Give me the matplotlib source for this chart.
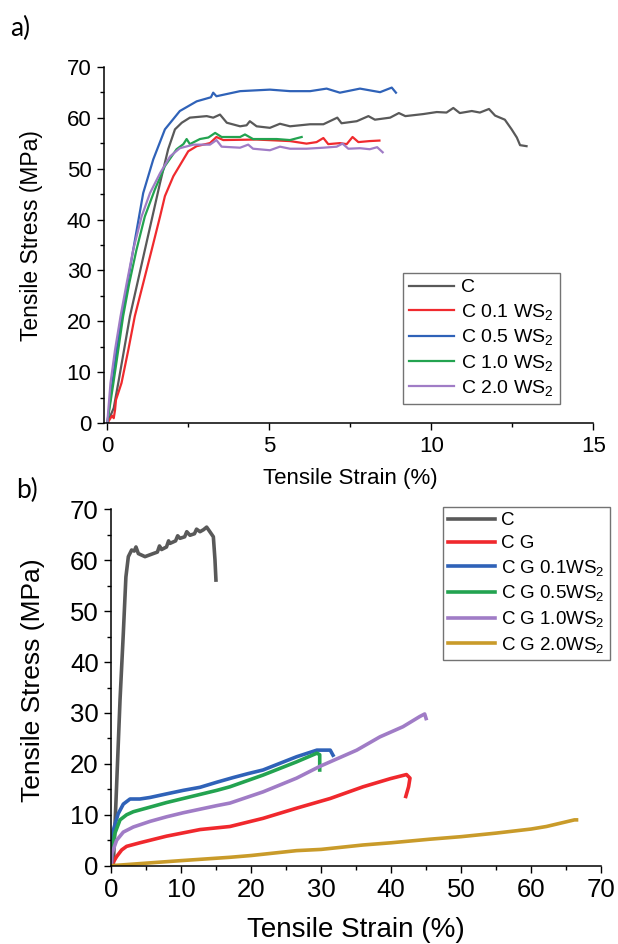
import matplotlib
matplotlib.use("Agg")
import matplotlib.pyplot as plt
from matplotlib.ticker import MultipleLocator

plt.rcParams['font.family'] = ['Liberation Sans', 'DejaVu Sans']
plt.rcParams['mathtext.fontset'] = 'custom'
plt.rcParams['mathtext.rm'] = 'Liberation Sans'
plt.rcParams['mathtext.it'] = 'Liberation Sans'

# ---------------- Panel a data ----------------
a_labels = ["C", "C 0.1 WS$_2$", "C 0.5 WS$_2$", "C 1.0 WS$_2$", "C 2.0 WS$_2$"]
a_colors = ["#595959", "#f02a2e", "#2f62b8", "#23a350", "#a07cc6"]

a_c_x = [0.0, 0.2, 0.34, 0.7, 1.16, 1.63, 1.88, 2.09, 2.3, 2.55, 3.07, 3.27, 3.48, 3.69, 4.1, 4.3, 4.4,
         4.61, 5.02, 5.33, 5.64, 6.26, 6.67, 7.1, 7.23, 7.7, 8.06, 8.26, 8.73, 9.0, 9.2, 9.75, 10.17,
         10.47, 10.68, 10.88, 11.25, 11.5, 11.78, 11.97, 12.27, 12.48, 12.64, 12.74, 12.94]
a_c_y = [0.0, 3.0, 7.9, 21.0, 34.0, 47.2, 53.8, 57.7, 59.0, 60.0, 60.3, 60.0, 60.6, 59.0, 58.3, 58.5, 59.3,
         58.3, 58.0, 58.8, 58.3, 58.7, 58.7, 60.0, 58.9, 59.3, 60.3, 59.6, 60.0, 60.9, 60.3, 60.7, 61.1,
         61.0, 61.9, 60.9, 61.3, 61.0, 61.7, 60.4, 59.6, 57.7, 56.1, 54.6, 54.4]

a_r_x = [0.0, 0.15, 0.2, 0.24, 0.27, 0.44, 0.65, 0.85, 1.11, 1.37, 1.63, 1.78, 2.04, 2.35, 2.5, 2.76,
         3.17, 3.37, 3.58, 4.61, 5.64, 6.15, 6.46, 6.67, 6.82, 7.18, 7.39, 7.57, 7.75, 8.1, 8.4]
a_r_y = [0.0, 1.5, 1.0, 2.6, 4.6, 7.9, 14.4, 21.0, 27.5, 34.0, 40.6, 44.6, 48.5, 51.8, 53.4, 54.4,
         55.0, 56.2, 55.6, 55.7, 55.4, 54.9, 55.2, 56.0, 54.8, 55.0, 54.8, 56.2, 55.2, 55.4, 55.5]

a_b_x = [0.0, 0.29, 0.49, 0.8, 1.11, 1.42, 1.78, 2.24, 2.76, 3.2, 3.27, 3.37, 4.1, 5.02, 5.64, 6.26,
         6.77, 7.18, 7.8, 8.42, 8.78, 8.91]
a_b_y = [0.0, 14.4, 22.3, 34.0, 45.2, 51.8, 57.7, 61.3, 63.2, 64.0, 64.9, 64.2, 65.2, 65.5, 65.2, 65.2,
         65.7, 64.9, 65.7, 65.0, 65.9, 64.9]

a_g_x = [0.0, 0.19, 0.34, 0.49, 0.68, 0.9, 1.16, 1.47, 1.78, 2.14, 2.35, 2.45, 2.55, 2.86, 3.12, 3.33,
         3.53, 4.1, 4.25, 4.5, 5.23, 5.64, 6.0]
a_g_y = [0.0, 7.9, 14.4, 21.0, 27.5, 34.0, 40.6, 45.9, 50.5, 53.8, 54.8, 55.8, 54.8, 55.8, 56.1, 57.0,
         56.2, 56.2, 56.7, 55.8, 55.8, 55.6, 56.2]

a_p_x = [0.0, 0.1, 0.24, 0.41, 0.6, 0.8, 1.06, 1.32, 1.63, 1.94, 2.24, 2.66, 3.17, 3.37, 3.53, 4.1,
         4.35, 4.5, 5.02, 5.33, 5.64, 6.15, 6.67, 7.08, 7.26, 7.44, 7.8, 8.1, 8.33, 8.5]
a_p_y = [0.0, 7.9, 14.4, 21.0, 27.5, 34.0, 40.6, 45.2, 49.1, 52.4, 54.0, 54.7, 54.7, 55.6, 54.3, 54.1,
         54.7, 53.9, 53.6, 54.3, 53.9, 53.9, 54.1, 54.3, 54.9, 53.9, 54.0, 53.8, 54.2, 53.2]

# ---------------- Panel b data ----------------
b_labels = ["C", "C G", "C G 0.1WS$_2$", "C G 0.5WS$_2$", "C G 1.0WS$_2$", "C G 2.0WS$_2$"]
b_colors = ["#595959", "#f0282d", "#2f62b8", "#23a350", "#a07cc6", "#c99b2a"]

b_c_x = [0.3, 0.69, 1.26, 1.73, 2.1, 2.45, 2.92, 3.3, 3.54, 3.88, 4.83, 6.0, 6.6, 6.9, 7.2, 7.9, 8.2,
         8.4, 9.2, 9.5, 9.83, 10.5, 10.8, 11.26, 11.9, 12.2, 12.69, 13.2, 13.64, 14.1, 14.6, 14.83, 14.97]
b_c_y = [0.0, 12.9, 32.5, 45.6, 56.7, 60.7, 62.0, 61.8, 62.6, 61.3, 60.7, 61.3, 61.6, 62.8, 62.1, 62.6, 63.8,
         63.3, 63.8, 64.8, 64.3, 64.6, 65.6, 64.9, 65.2, 66.1, 65.6, 66.0, 66.5, 65.6, 64.6, 60.1, 56.1]

b_r_x = [0.0, 0.78, 1.5, 2.2, 4.1, 7.9, 12.7, 16.97, 21.7, 26.5, 31.3, 36.0, 39.9, 42.2, 42.7, 42.5, 42.1]
b_r_y = [0.0, 1.8, 3.1, 3.8, 4.5, 5.8, 7.1, 7.7, 9.3, 11.3, 13.2, 15.5, 17.1, 17.9, 17.2, 15.5, 13.6]

b_b_x = [0.0, 0.3, 1.0, 1.73, 2.69, 4.1, 5.54, 7.9, 10.3, 12.7, 15.1, 17.4, 19.6, 21.7, 26.5, 29.4,
         31.3, 31.7]
b_b_y = [0.0, 7.0, 10.2, 12.1, 13.1, 13.1, 13.4, 14.1, 14.8, 15.4, 16.4, 17.3, 18.1, 18.8, 21.4, 22.7,
         22.7, 21.7]

b_g_x = [0.0, 0.1, 0.54, 1.26, 2.2, 3.16, 5.54, 7.9, 10.3, 12.7, 15.1, 16.97, 21.7, 26.5, 29.4, 29.8, 29.8]
b_g_y = [0.0, 3.0, 6.4, 9.0, 10.0, 10.6, 11.5, 12.4, 13.2, 14.0, 14.8, 15.5, 17.8, 20.4, 22.1, 21.8, 18.8]

b_p_x = [0.0, 0.1, 0.78, 1.73, 3.16, 5.54, 7.9, 10.3, 12.7, 15.1, 16.97, 21.7, 26.5, 29.8, 35.1, 38.4,
         41.7, 44.1, 44.8, 45.0]
b_p_y = [0.0, 2.4, 5.0, 6.6, 7.6, 8.7, 9.6, 10.4, 11.1, 11.8, 12.3, 14.5, 17.2, 19.5, 22.7, 25.3,
         27.3, 29.3, 29.8, 28.9]

b_o_x = [0.0, 5.0, 10.0, 16.97, 20.0, 26.5, 30.0, 36.0, 40.0, 45.5, 50.0, 55.0, 60.0, 62.2, 66.2, 66.5]
b_o_y = [0.0, 0.5, 1.0, 1.65, 2.0, 2.96, 3.2, 4.07, 4.5, 5.2, 5.7, 6.4, 7.2, 7.7, 9.0, 9.0]

# ---------------- Figure ----------------
W, H = 618, 944
fig = plt.figure(figsize=(W / 100, H / 100), dpi=100)


def px_axes(l, t, r, b):
    return fig.add_axes([l / W, 1 - b / H, (r - l) / W, (b - t) / H])


def style(ax, fs):
    for s in ("top", "right"):
        ax.spines[s].set_visible(False)
    for s in ("left", "bottom"):
        ax.spines[s].set_linewidth(1.1)
    ax.tick_params(which="major", direction="out", length=5, width=1.0, labelsize=fs, pad=4)
    ax.tick_params(which="minor", direction="out", length=3, width=1.0)


# Panel a
axa = px_axes(104, 66.7, 593.3, 423.3)
series_a = [(a_c_x, a_c_y), (a_r_x, a_r_y), (a_b_x, a_b_y), (a_g_x, a_g_y), (a_p_x, a_p_y)]
for (x, y), lab, col in zip(series_a, a_labels, a_colors):
    axa.plot(x, y, color=col, lw=1.6, label=lab)
axa.set_xlim(-0.1, 15)
axa.set_ylim(0, 70)
axa.xaxis.set_major_locator(MultipleLocator(5))
axa.xaxis.set_minor_locator(MultipleLocator(2.5))
axa.yaxis.set_major_locator(MultipleLocator(10))
axa.yaxis.set_minor_locator(MultipleLocator(5))
style(axa, 16)
axa.set_xlabel("Tensile Strain (%)", fontsize=16, va="center")
axa.set_ylabel("Tensile Stress (MPa)", fontsize=16.5, va="center")
axa.xaxis.set_label_coords((350 - 104) / (593.3 - 104), -(479 - 423.3) / (423.3 - 66.7))
axa.yaxis.set_label_coords(-(104 - 32) / (593.3 - 104), (423.3 - 236) / (423.3 - 66.7))
lega = axa.legend(loc="upper left", bbox_to_anchor=(403 / W, 1 - 273 / H),
                  bbox_transform=fig.transFigure, borderaxespad=0, fontsize=14,
                  frameon=True, fancybox=False, handlelength=2.3, handletextpad=0.4,
                  labelspacing=0.28, borderpad=0.3)
lega.get_frame().set_edgecolor("#505050")
lega.get_frame().set_linewidth(1.0)

# Panel b
axb = px_axes(111.2, 509.3, 601, 865.7)
series_b = [(b_c_x, b_c_y), (b_r_x, b_r_y), (b_b_x, b_b_y), (b_g_x, b_g_y), (b_p_x, b_p_y), (b_o_x, b_o_y)]
for (x, y), lab, col in zip(series_b, b_labels, b_colors):
    axb.plot(x, y, color=col, lw=2.6, label=lab)
axb.set_xlim(0, 70)
axb.set_ylim(0, 70)
axb.xaxis.set_major_locator(MultipleLocator(10))
axb.xaxis.set_minor_locator(MultipleLocator(5))
axb.yaxis.set_major_locator(MultipleLocator(10))
axb.yaxis.set_minor_locator(MultipleLocator(5))
style(axb, 18.5)
axb.set_xlabel("Tensile Strain (%)", fontsize=20, va="center")
axb.set_ylabel("Tensile Stress (MPa)", fontsize=19, va="center")
axb.xaxis.set_label_coords((356 - 111.2) / (601 - 111.2), -(930 - 865.7) / (865.7 - 509.3))
axb.yaxis.set_label_coords(-(111.2 - 33) / (601 - 111.2), (865.7 - 680) / (865.7 - 509.3))
legb = axb.legend(loc="upper left", bbox_to_anchor=(442.7 / W, 1 - 506.7 / H),
                  bbox_transform=fig.transFigure, borderaxespad=0, fontsize=13.5,
                  frameon=True, fancybox=False, handlelength=2.5, handletextpad=0.3,
                  labelspacing=0.3, borderpad=0.3)
legb.get_frame().set_edgecolor("#505050")
legb.get_frame().set_linewidth(1.0)

fig.text(10 / W, 1 - 28 / H, "a)", fontsize=19, family=["Lato", "DejaVu Sans"], va="center", ha="left")
fig.text(16 / W, 1 - 490 / H, "b)", fontsize=19, family=["Lato", "DejaVu Sans"], va="center", ha="left")

fig.savefig("out.png", dpi=100, facecolor="white")
